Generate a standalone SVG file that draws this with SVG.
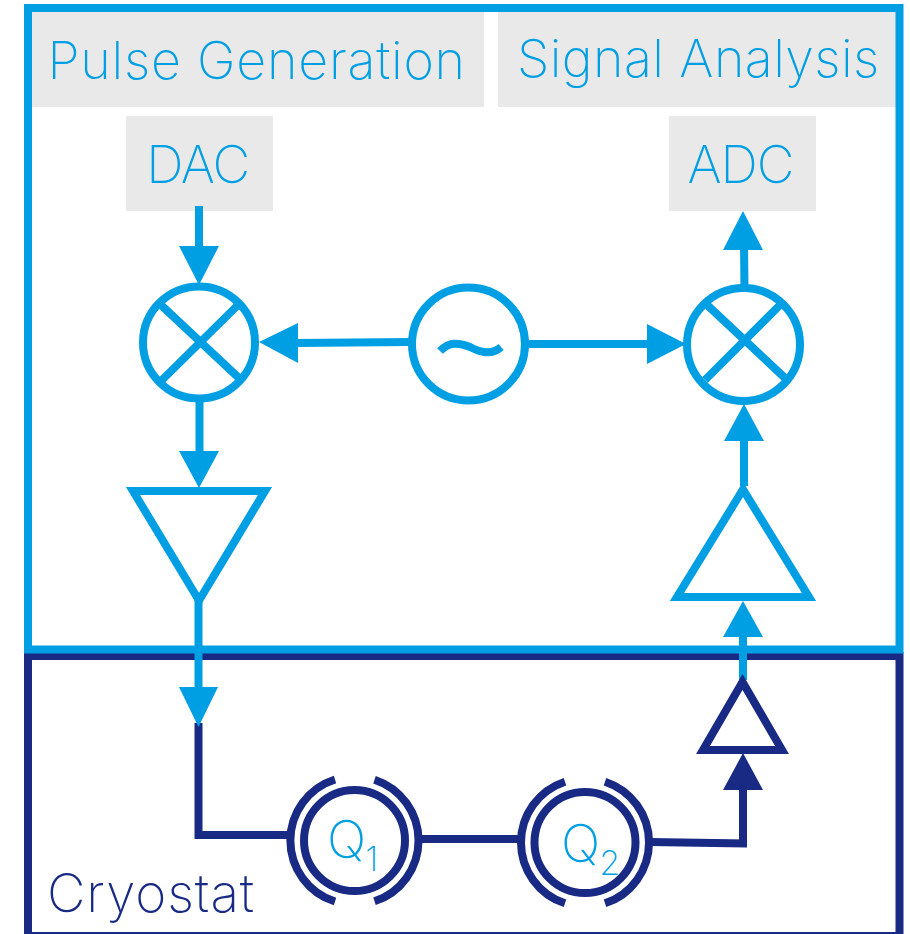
<svg xmlns="http://www.w3.org/2000/svg" width="910" height="934" viewBox="0 0 910 934">
<style>
.lb{fill:#009fe3}
.db{fill:#182a84}
.g{fill:#e9e9e9}
.ls{fill:none;stroke:#009fe3;stroke-width:8}
.ds{fill:none;stroke:#182a84;stroke-width:8}
.t{font-family:"Inter","Liberation Sans",sans-serif;font-weight:200;fill:#009fe3}
.dt{fill:#182a84}
</style>
<rect width="910" height="934" fill="#fff"/>
<g id="cryostat">
<rect class="ds" x="28" y="656" width="871.500" height="280"/>
<text x="47" y="912" class="t dt" font-size="53" letter-spacing="0.900">Cryostat</text>
</g>
<g id="room">
<rect class="g" x="32" y="12" width="452" height="95"/>
<rect class="g" x="498" y="12" width="398" height="95"/>
<rect class="ls" x="28" y="8" width="871.500" height="641.500"/>
<text x="47.500" y="79" class="t" font-size="52" letter-spacing="0.750">Pulse Generation</text>
<text x="517" y="77" class="t" font-size="52" letter-spacing="0.400">Signal Analysis</text>
</g>
<g id="dac"><rect class="g" x="126" y="116" width="147" height="95"/><text x="197.500" y="183" class="t" font-size="52" letter-spacing="-1.300" text-anchor="middle">DAC</text></g>
<g id="adc"><rect class="g" x="669" y="116" width="147" height="95"/><text x="740.500" y="183" class="t" font-size="52" letter-spacing="-1" text-anchor="middle">ADC</text></g>
<g id="connectors">
<path class="ds" d="M198.500 723V835H290M420 839H520M650 842L747 843.500H743V790"/>
<path class="db" d="M723 790H763L743 753Z"/>
<path class="ls" d="M199 206V250M199.500 402V455M412 342L294 343M527 344H652M744.500 288L744 245M744 486V436M743 680V630M198.500 600V690"/>
<path class="lb" d="M179 246H219L199 285ZM179 451H219L199 488ZM298 323V363L259 342ZM647 324V364L686 344ZM723 250H763L743 211ZM724 441H764L744 404ZM723 637H763L743 601ZM179 687H218L198.500 727Z"/>
</g>
<g id="mixer-left"><circle class="ls" cx="199" cy="342.500" r="56"/><path class="ls" d="M161 305L240 379M238 305L161 381"/></g>
<g id="mixer-right"><circle class="ls" cx="743.500" cy="344.500" r="56.500"/><path class="ls" d="M705 303L785 378M782 303L705 380"/></g>
<g id="lo"><circle class="ls" cx="468.500" cy="344" r="56.500"/><path class="ls" d="M440 351C449 342 458 342 470 347C480 352 491 356 501 347"/></g>
<g id="amp-left"><path class="ls" d="M133 491H265L199 600.500Z"/></g>
<g id="amp-right"><path class="ls" d="M677 597H809L743 489.500Z"/></g>
<g id="amp-cold"><path class="ds" d="M703 750H782L742.500 682Z"/></g>
<g id="q1">
<circle class="ds" cx="354.500" cy="840.500" r="50.500"/>
<path class="ds" d="M335 779.500A64 64 0 0 0 335 901.500M374.500 779.700A64 64 0 0 1 374.500 901.300"/>
<text x="327" y="858" class="t" font-size="52" letter-spacing="-1">Q<tspan dy="13" dx="0" font-size="34">1</tspan></text>
</g>
<g id="q2">
<circle class="ds" cx="585" cy="842.500" r="50.500"/>
<path class="ds" d="M565 781.700A64 64 0 0 0 565 903.300M605 781.700A64 64 0 0 1 605 903.300"/>
<text x="561" y="862" class="t" font-size="52" letter-spacing="-1">Q<tspan dy="13" dx="0" font-size="34">2</tspan></text>
</g>
</svg>
